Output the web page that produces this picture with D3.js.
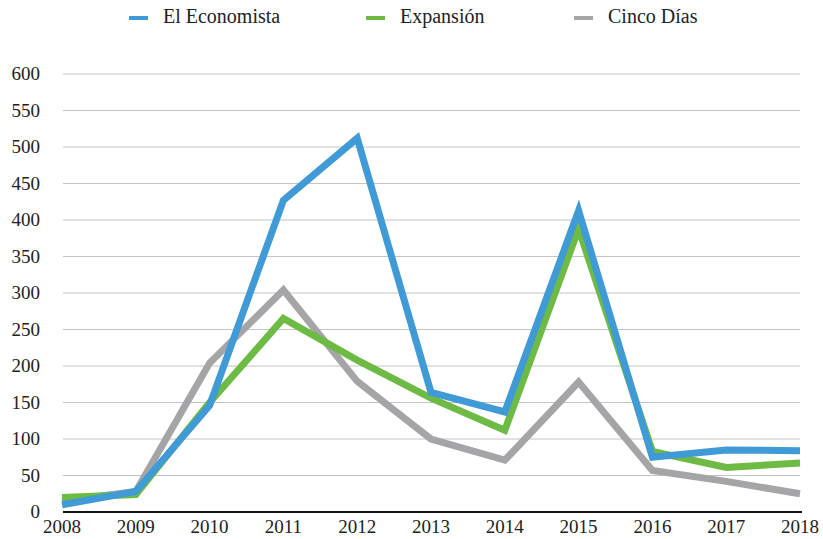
<!DOCTYPE html>
<html lang="en">
<head>
  <meta charset="UTF-8">
  <title>Chart</title>
  <script src="https://d3js.org/d3.v7.min.js"></script>
  <style>
    body { margin: 0; background: #fff; }
  </style>
</head>
<body>
<div id="chart"></div>
<script>
  // chart data
  var years = [2008, 2009, 2010, 2011, 2012, 2013, 2014, 2015, 2016, 2017, 2018];
  var economista = [10, 28, 146, 427, 512, 164, 137, 413, 75, 85, 84];
  var expansion = [20, 24, 150, 265, 208, 156, 112, 388, 83, 61, 67];
  var cincoDias = [15, 28, 204, 304, 179, 100, 71, 178, 57, 42, 25];
  var seriesNames = ["El Economista", "Expansión", "Cinco Días"];
  var yTicks = [0, 50, 100, 150, 200, 250, 300, 350, 400, 450, 500, 550, 600];

  var colors = ["#3f9ad6", "#6dbb45", "#a5a5a7"];
  var series = [economista, expansion, cincoDias];

  var width = 823, height = 539;
  var margin = { top: 74, right: 23, bottom: 27, left: 62 };
  var serif = "'Liberation Serif'";

  var svg = d3.select("#chart")
    .append("svg")
    .attr("width", width)
    .attr("height", height);

  var x = d3.scaleLinear()
    .domain([2008, 2018])
    .range([margin.left, width - margin.right]);

  var y = d3.scaleLinear()
    .domain([0, 600])
    .range([height - margin.bottom, margin.top]);

  // gridlines
  svg.append("g")
    .selectAll("line")
    .data(yTicks.filter(function(d) { return d > 0; }))
    .enter()
    .append("line")
    .attr("x1", x(2008) + 1)
    .attr("x2", x(2018))
    .attr("y1", function(d) { return y(d); })
    .attr("y2", function(d) { return y(d); })
    .style("stroke", "#c4c4c4")
    .style("stroke-width", 1);

  // y labels
  svg.append("g")
    .selectAll("text")
    .data(yTicks)
    .enter()
    .append("text")
    .attr("x", 40)
    .attr("y", function(d) { return y(d) + 6; })
    .attr("text-anchor", "end")
    .style("font-family", serif)
    .style("font-size", "19px")
    .style("fill", "#222")
    .text(function(d) { return d; });

  // x labels
  svg.append("g")
    .selectAll("text")
    .data(years)
    .enter()
    .append("text")
    .attr("x", function(d) { return x(d); })
    .attr("y", 533)
    .attr("text-anchor", "middle")
    .style("font-family", serif)
    .style("font-size", "19px")
    .style("fill", "#222")
    .text(function(d) { return d; });

  // lines, last series drawn first
  var line = d3.line()
    .x(function(d, i) { return x(years[i]); })
    .y(function(d) { return y(d); });

  [2, 1, 0].forEach(function(k) {
    svg.append("path")
      .datum(series[k])
      .attr("d", line)
      .style("fill", "none")
      .style("stroke", colors[k])
      .style("stroke-width", 7)
      .style("stroke-linejoin", "miter");
  });

  // baseline
  svg.append("line")
    .attr("x1", x(2008) + 1)
    .attr("x2", x(2018) + 2)
    .attr("y1", y(0))
    .attr("y2", y(0))
    .style("stroke", "#111")
    .style("stroke-width", 2);

  // legend
  var legendX = [129, 366, 574];
  var legend = svg.append("g")
    .selectAll("g")
    .data(seriesNames)
    .enter()
    .append("g")
    .attr("transform", function(d, i) { return "translate(" + legendX[i] + ",18)"; });

  legend.append("line")
    .attr("x1", 0)
    .attr("x2", 19)
    .style("stroke", function(d, i) { return colors[i]; })
    .style("stroke-width", 4);

  legend.append("text")
    .attr("x", 34)
    .attr("y", 5)
    .style("font-family", serif)
    .style("font-size", "20px")
    .style("fill", "#222")
    .text(function(d) { return d; });
</script>
</body>
</html>
